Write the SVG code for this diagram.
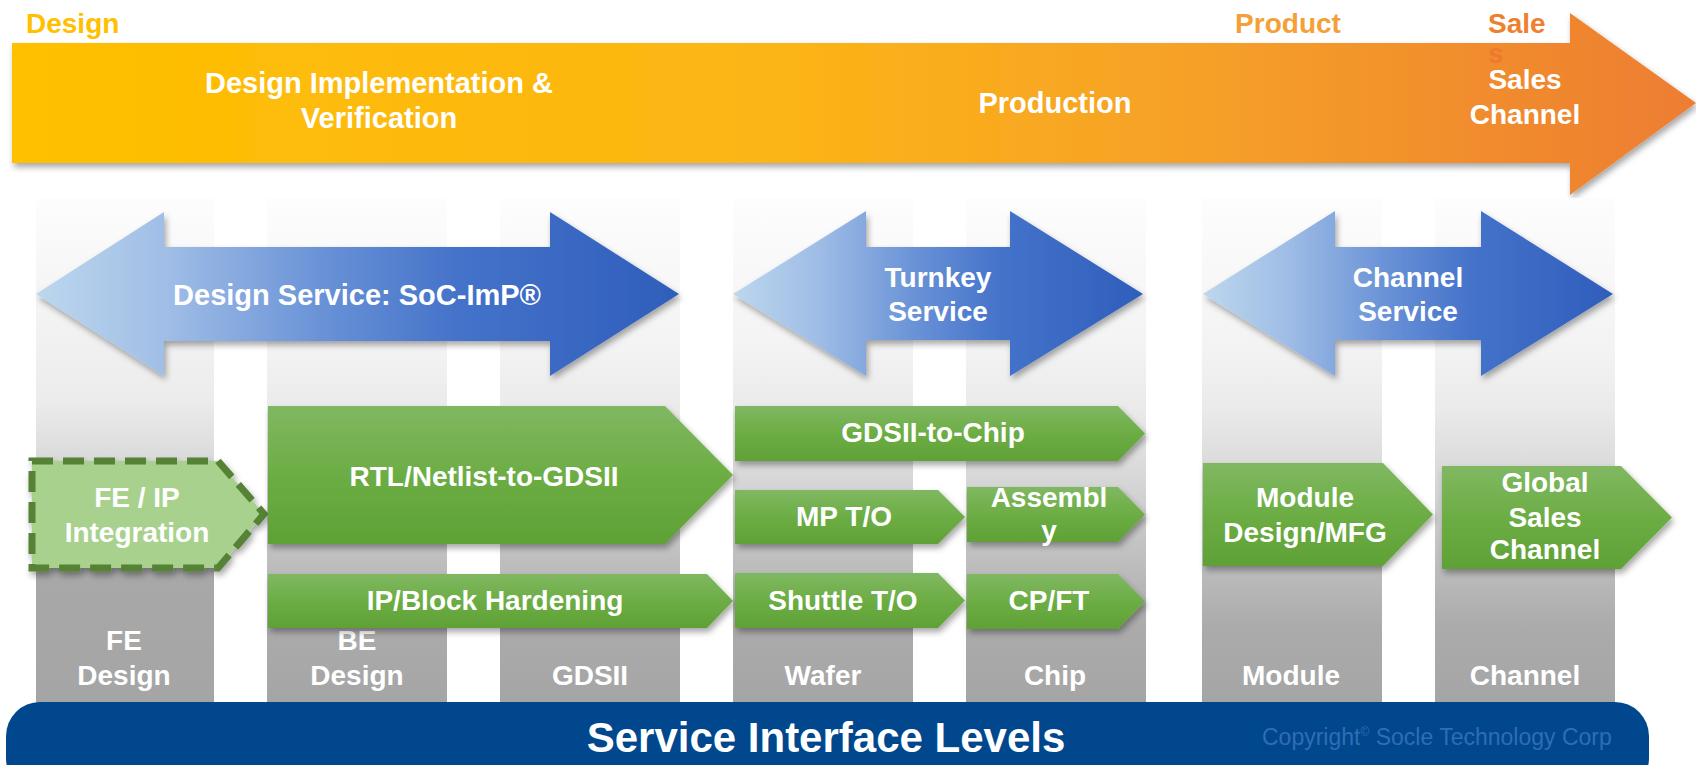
<svg xmlns="http://www.w3.org/2000/svg" width="1696" height="765" viewBox="0 0 1696 765">
<defs>
<linearGradient id="gOrange" x1="0" y1="0" x2="1" y2="0">
<stop offset="0" stop-color="#FFC000"/>
<stop offset="0.45" stop-color="#FCB515"/>
<stop offset="0.7" stop-color="#F6A128"/>
<stop offset="1" stop-color="#ED7D31"/>
</linearGradient>
<linearGradient id="gBlue" x1="0" y1="0" x2="1" y2="0">
<stop offset="0" stop-color="#BDD7EE"/>
<stop offset="0.2" stop-color="#A0BEE6"/>
<stop offset="0.45" stop-color="#6891D6"/>
<stop offset="0.65" stop-color="#4573CA"/>
<stop offset="1" stop-color="#2E5EBB"/>
</linearGradient>
<linearGradient id="gGreen" x1="0" y1="0" x2="0" y2="1">
<stop offset="0" stop-color="#80B862"/>
<stop offset="0.5" stop-color="#6CAD44"/>
<stop offset="1" stop-color="#5FA136"/>
</linearGradient>
<linearGradient id="gCol" gradientUnits="userSpaceOnUse" x1="0" y1="198" x2="0" y2="703">
<stop offset="0" stop-color="#FDFDFD"/>
<stop offset="0.3" stop-color="#F3F3F3"/>
<stop offset="0.42" stop-color="#EAEAEA"/>
<stop offset="0.55" stop-color="#D8D8D8"/>
<stop offset="0.72" stop-color="#BEBEBE"/>
<stop offset="0.85" stop-color="#ABABAB"/>
<stop offset="1" stop-color="#A5A5A5"/>
</linearGradient>
<linearGradient id="gCol1" gradientUnits="userSpaceOnUse" x1="0" y1="198" x2="0" y2="703">
<stop offset="0" stop-color="#FDFDFD"/>
<stop offset="0.4" stop-color="#ECECEC"/>
<stop offset="0.52" stop-color="#DADADA"/>
<stop offset="0.74" stop-color="#A8A8A8"/>
<stop offset="1" stop-color="#A5A5A5"/>
</linearGradient>
<filter id="sh" x="-10%" y="-20%" width="130%" height="150%">
<feDropShadow dx="2" dy="4" stdDeviation="3" flood-color="#000" flood-opacity="0.35"/>
</filter>
<style>
text{font-family:"Liberation Sans",Arial,sans-serif;font-weight:bold;}
.w{fill:#FFFFFF;font-size:28px;text-anchor:middle;}
.h{fill:#FFFFFF;font-size:29px;text-anchor:middle;}
.col{fill:url(#gCol);}
.blue{fill:url(#gBlue);filter:url(#sh);}
.green{fill:url(#gGreen);filter:url(#sh);}
</style>
</defs>

<g id="timeline">
<polygon points="12,43 1570,43 1570,13 1696,103 1570,195 1570,163 12,163" fill="url(#gOrange)" filter="url(#sh)"/>
<text x="26" y="33" style="font-size:28px;fill:#FFC000">Design</text>
<text x="1288" y="33" style="font-size:28px;fill:#F4A038;text-anchor:middle">Product</text>
<text x="1488" y="33" style="font-size:28px;fill:#EE8030">Sale</text>
<text x="1488" y="63" style="font-size:28px;fill:#EC7A30">s</text>
<text class="h" x="379" y="93">Design Implementation &amp;</text>
<text class="h" x="379" y="128">Verification</text>
<text class="h" x="1055" y="113">Production</text>
<text class="w" x="1525" y="89">Sales</text>
<text class="w" x="1525" y="124">Channel</text>
</g>

<g id="columns">
<rect x="36" y="198" width="178" height="505" fill="url(#gCol1)"/>
<rect class="col" x="267" y="198" width="180" height="505"/>
<rect class="col" x="500" y="198" width="180" height="505"/>
<rect class="col" x="733" y="198" width="180" height="505"/>
<rect class="col" x="966" y="198" width="180" height="505"/>
<rect class="col" x="1202" y="198" width="180" height="505"/>
<rect class="col" x="1435" y="198" width="180" height="505"/>
<text class="w" x="124" y="650">FE</text>
<text class="w" x="124" y="685">Design</text>
<text class="w" x="357" y="650">BE</text>
<text class="w" x="357" y="685">Design</text>
<text class="w" x="590" y="685">GDSII</text>
<text class="w" x="823" y="685">Wafer</text>
<text class="w" x="1055" y="685">Chip</text>
<text class="w" x="1291" y="685">Module</text>
<text class="w" x="1525" y="685">Channel</text>
</g>

<g id="design-service">
<polygon class="blue" points="36,294 164,212 164,247 550,247 550,212 679,294 550,376 550,341 164,341 164,376"/>
<text class="h" x="357" y="305">Design Service: SoC-ImP®</text>
</g>
<g id="turnkey-service">
<polygon class="blue" points="733,294 866,211 866,247 1010,247 1010,211 1143,294 1010,376 1010,340 866,340 866,376"/>
<text class="w" x="938" y="287">Turnkey</text>
<text class="w" x="938" y="321">Service</text>
</g>
<g id="channel-service">
<polygon class="blue" points="1203,294 1335,211 1335,247 1481,247 1481,211 1613,294 1481,376 1481,340 1335,340 1335,376"/>
<text class="w" x="1408" y="287">Channel</text>
<text class="w" x="1408" y="321">Service</text>
</g>

<g id="fe-ip-integration">
<polygon points="32,461 218,461 264,514 218,568 32,568" fill="#A9D18E" stroke="#548235" stroke-width="7" stroke-dasharray="21 10" filter="url(#sh)"/>
<text class="w" x="137" y="507">FE / IP</text>
<text class="w" x="137" y="542">Integration</text>
</g>
<g id="rtl-to-gdsii">
<polygon class="green" points="268,406 665,406 733,475 665,544 268,544"/>
<text class="w" x="484" y="486">RTL/Netlist-to-GDSII</text>
</g>
<g id="ip-block-hardening">
<polygon class="green" points="268,574 707,574 733,601 707,628 268,628"/>
<text class="w" x="495" y="610">IP/Block Hardening</text>
</g>
<g id="gdsii-to-chip">
<polygon class="green" points="735,406 1118,406 1145,433.5 1118,461 735,461"/>
<text class="w" x="933" y="442">GDSII-to-Chip</text>
</g>
<g id="mp-to">
<polygon class="green" points="735,490 938,490 965,517 938,544 735,544"/>
<text class="w" x="844" y="526">MP T/O</text>
</g>
<g id="assembly">
<polygon class="green" points="967,487 1118,487 1145,514.5 1118,542 967,542"/>
<text class="w" x="1049" y="507">Assembl</text>
<text class="w" x="1049" y="540">y</text>
</g>
<g id="shuttle-to">
<polygon class="green" points="735,573 938,573 965,600.5 938,628 735,628"/>
<text class="w" x="843" y="610">Shuttle T/O</text>
</g>
<g id="cp-ft">
<polygon class="green" points="967,574 1118,574 1145,601.5 1118,629 967,629"/>
<text class="w" x="1049" y="610">CP/FT</text>
</g>
<g id="module-design">
<polygon class="green" points="1203,463 1383,463 1433,514.5 1383,566 1203,566"/>
<text class="w" x="1305" y="507">Module</text>
<text class="w" x="1305" y="542">Design/MFG</text>
</g>
<g id="global-sales-channel">
<polygon class="green" points="1442,466 1621,466 1672,517.5 1621,569 1442,569"/>
<text class="w" x="1545" y="492">Global</text>
<text class="w" x="1545" y="527">Sales</text>
<text class="w" x="1545" y="559">Channel</text>
</g>

<g id="connectors"></g>

<g id="service-interface-levels">
<rect x="6" y="702" width="1643" height="90" rx="34" ry="34" fill="#00478D"/>
<text x="826" y="752" style="font-size:42px;fill:#FFFFFF;text-anchor:middle">Service Interface Levels</text>
<text x="1262" y="745" style="font-size:23px;font-weight:normal;fill:#2F6DB5">Copyright<tspan dy="-9" style="font-size:12px">©</tspan><tspan dy="9"> Socle Technology Corp</tspan></text>
</g>
</svg>
